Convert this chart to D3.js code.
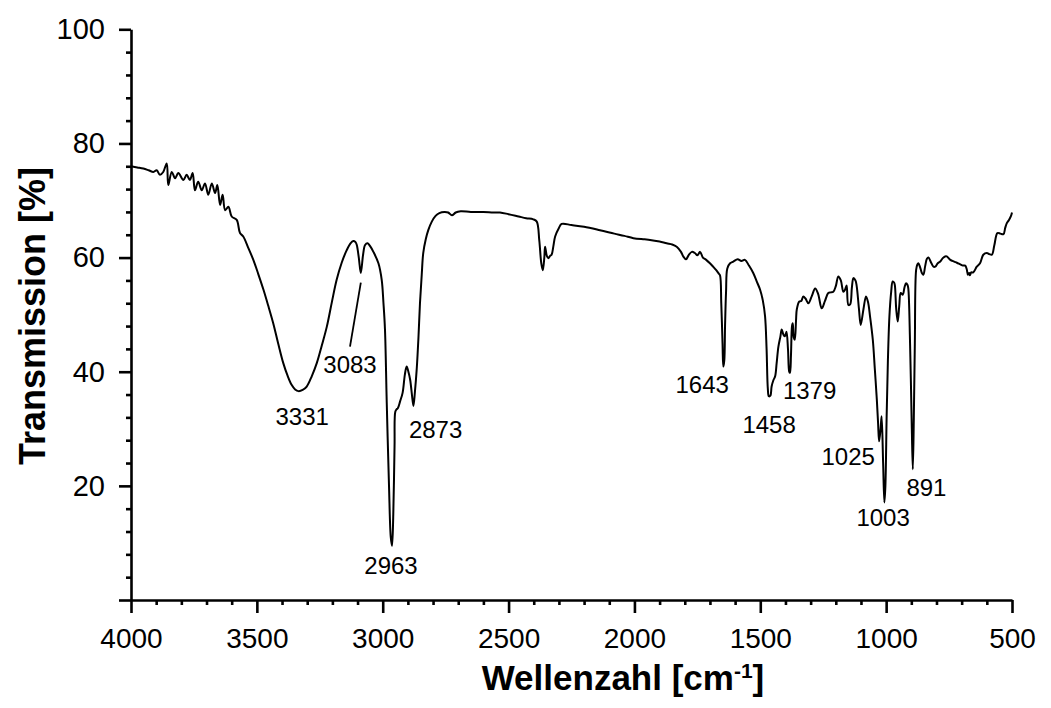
<!DOCTYPE html>
<html>
<head>
<meta charset="utf-8">
<script src="https://cdn.jsdelivr.net/npm/d3@7"></script>
<style>
  html, body { margin: 0; padding: 0; background: #fff; }
  svg { display: block; }
  text { font-family: "Liberation Sans", Arial, Helvetica, sans-serif; fill: #000; }
</style>
</head>
<body>
<svg id="chart" width="1051" height="708"></svg>
<script>
// ---- data ----
const wavenumber = [
  4000,3975,3951,3930,3911,3898,3885,3872,3858,3852,3838,3825,3812,3792,3779,3766,3755,3746,3733,3719,
  3706,3693,3679,3666,3657,3646,3636,3626,3613,3600,3580,3567,3554,3535,3514,3495,3474,3455,3435,3415,
  3395,3378,3362,3348,3335,3318,3302,3282,3262,3242,3222,3202,3183,3163,3143,3128,3117,3108,3103,3095,
  3087,3078,3070,3060,3050,3037,3017,3004,2997,2991,2984,2975,2968,2963,2958,2953,2950,2945,2940,2931,
  2921,2912,2905,2898,2891,2884,2878,2872,2865,2858,2852,2845,2839,2829,2819,2805,2790,2775,2755,2740,
  2725,2710,2690,2650,2600,2560,2534,2500,2460,2430,2402,2388,2378,2370,2364,2358,2355,2348,2342,2335,
  2329,2322,2315,2300,2289,2250,2200,2137,2080,2040,2004,1960,1938,1900,1872,1850,1832,1815,1806,1795,
  1785,1772,1760,1750,1739,1728,1715,1700,1687,1675,1665,1660,1655,1650,1647,1643,1640,1636,1631,1620,
  1607,1590,1575,1561,1545,1528,1515,1501,1490,1481,1475,1470,1466,1460,1455,1448,1441,1435,1428,1420,
  1415,1408,1402,1396,1390,1385,1382,1378,1374,1371,1367,1363,1358,1355,1345,1337,1329,1320,1309,1295,
  1282,1270,1256,1243,1230,1220,1210,1200,1190,1180,1170,1163,1157,1150,1143,1136,1130,1122,1117,1108,
  1101,1090,1080,1072,1064,1053,1045,1037,1032,1028,1022,1018,1012,1007,1003,998,993,987,980,974,
  968,965,960,954,948,942,934,927,921,915,912,905,898,894,890,886,881,876,872,865,
  858,852,845,838,832,822,812,805,795,785,775,766,759,745,730,719,705,695,686,680,
  675,670,667,662,654,640,627,614,600,590,580,570,558,546,534,527,521,512,504,500
];
const transmission = [
  76.0,75.8,75.6,75.3,75.0,75.3,74.5,75.0,76.5,72.7,75.0,73.9,74.8,73.6,74.5,73.6,74.8,71.8,73.3,71.8,
  73.0,71.0,73.0,71.3,72.7,69.2,71.0,68.3,68.9,67.2,66.6,64.3,63.7,61.8,59.6,57.2,54.4,51.6,48.5,44.9,
  41.5,39.3,37.7,36.9,36.6,36.8,37.4,39.2,41.5,44.6,47.9,52.2,56.1,59.1,61.3,62.5,62.9,62.7,62.2,60.0,
  57.3,60.5,62.2,62.5,62.0,61.0,59.0,56.1,52.0,47.4,34.6,20.0,11.0,9.5,15.0,27.0,33.0,33.4,33.6,34.8,
  36.3,39.5,40.9,40.0,38.6,36.0,34.0,36.5,40.4,46.0,52.0,57.0,60.8,63.2,64.8,66.3,67.3,67.8,68.0,67.9,
  67.4,67.9,68.1,68.0,68.0,67.9,67.9,67.6,67.2,66.9,66.7,66.3,63.0,59.0,57.8,60.0,61.9,60.3,59.9,60.3,
  60.5,62.0,63.7,65.2,65.9,65.7,65.4,64.8,64.2,63.8,63.4,63.2,63.1,62.8,62.5,62.3,61.9,61.0,60.2,59.7,
  60.4,61.0,60.8,60.4,61.0,60.0,59.6,59.0,58.4,57.8,57.2,56.9,52.0,45.0,40.9,42.0,48.0,54.0,58.1,59.0,
  59.3,59.7,59.4,59.6,58.6,57.3,55.9,54.4,52.5,49.7,44.0,37.0,35.7,35.8,37.4,38.5,39.2,41.5,44.4,46.2,
  47.4,46.5,46.2,47.0,44.0,40.0,39.8,43.0,48.0,48.5,46.0,45.6,49.0,50.9,52.3,52.4,53.2,52.8,52.0,53.3,
  54.6,53.6,51.1,52.4,53.8,53.9,54.0,55.0,56.7,56.0,54.0,54.4,55.1,51.7,51.8,54.8,56.4,56.0,55.0,51.0,
  48.2,51.0,53.2,52.2,49.7,45.6,40.5,35.1,31.0,27.8,30.0,32.2,24.0,17.1,20.0,32.2,42.0,49.7,54.0,55.8,
  55.6,55.0,51.0,48.8,51.5,53.8,53.5,54.8,55.5,55.2,54.6,45.0,30.0,22.9,32.0,45.0,57.8,58.8,59.0,58.3,
  57.3,57.0,58.5,59.8,60.0,59.2,58.4,58.4,59.0,59.3,59.9,60.2,60.2,59.6,59.3,59.1,58.8,58.6,58.6,58.0,
  57.0,57.3,56.9,57.4,57.4,58.4,59.0,60.5,60.8,60.6,60.5,62.2,64.3,64.2,64.1,65.2,66.0,66.6,67.3,67.9
];

const xMajorTicks = [4000, 3500, 3000, 2500, 2000, 1500, 1000, 500];
const yMajorTicks = [0, 20, 40, 60, 80, 100];
const yTickLabels = ["", "20", "40", "60", "80", "100"];

// peak annotations: label text and anchor (wavenumber, transmission) of label centre/baseline
const peakText = ["3331", "3083", "2963", "2873", "1643", "1458", "1379", "1025", "1003", "891"];
const peakLabelWn = [3320, 3130, 2967, 2790, 1731, 1465, 1304, 1151, 1012, 840];
const peakLabelT  = [30.6, 39.8, 4.5, 28.3, 36.3, 29.2, 35.3, 23.6, 12.9, 18.3];
// leader line for 3083 band
const leaderWn = [3087, 3130];
const leaderT  = [55.6, 44.4];

const xTitle = "Wellenzahl [cm";
const xTitleSup = "-1";
const yTitle = "Transmission [%]";

// ---- drawing ----
const svg = d3.select("#chart");
const x = d3.scaleLinear().domain([4000, 500]).range([131, 1012]);
const y = d3.scaleLinear().domain([0, 100]).range([600, 29.3]);

const axisColor = "#000";
const axisW = 2.6;

// minor ticks
const xMinor = d3.range(4000, 499, -100).filter(v => !xMajorTicks.includes(v));
const yMinor = d3.range(0, 101, 4).filter(v => !yMajorTicks.includes(v));

const gx = svg.append("g").attr("transform", `translate(0,${y(0)})`);
gx.call(d3.axisBottom(x).tickValues(xMajorTicks).tickSize(13).tickSizeOuter(0).tickPadding(15)
  .tickFormat(d3.format("d")));
const gxm = svg.append("g").attr("transform", `translate(0,${y(0)})`);
gxm.call(d3.axisBottom(x).tickValues(xMinor).tickSize(5).tickSizeOuter(0).tickFormat(""));
gxm.select(".domain").remove();

const gy = svg.append("g").attr("transform", `translate(${x(4000)},0)`);
gy.call(d3.axisLeft(y).tickValues(yMajorTicks).tickSize(12).tickSizeOuter(0).tickPadding(14)
  .tickFormat((d, i) => yTickLabels[i]));
const gym = svg.append("g").attr("transform", `translate(${x(4000)},0)`);
gym.call(d3.axisLeft(y).tickValues(yMinor).tickSize(5).tickSizeOuter(0).tickFormat(""));
gym.select(".domain").remove();

svg.selectAll(".domain, .tick line").attr("stroke", axisColor).attr("stroke-width", axisW);
gx.selectAll(".tick text").attr("font-size", 28).attr("font-family", "Liberation Sans, Arial, sans-serif").attr("fill", "#000");
gy.selectAll(".tick text").attr("font-size", 29).attr("font-family", "Liberation Sans, Arial, sans-serif").attr("fill", "#000");

// spectrum line
const pts = wavenumber.map((w, i) => [w, transmission[i]]);
svg.append("path").datum(pts)
  .attr("d", d3.line().x(d => x(d[0])).y(d => y(d[1])).curve(d3.curveCatmullRom.alpha(0.5)))
  .attr("fill", "none").attr("stroke", "#000").attr("stroke-width", 2).attr("stroke-linejoin", "round");

// leader line
svg.append("line")
  .attr("x1", x(leaderWn[0])).attr("y1", y(leaderT[0]))
  .attr("x2", x(leaderWn[1])).attr("y2", y(leaderT[1]))
  .attr("stroke", "#000").attr("stroke-width", 1.8);

// peak labels
svg.append("g").selectAll("text").data(peakText).join("text")
  .attr("x", (d, i) => x(peakLabelWn[i]))
  .attr("y", (d, i) => y(peakLabelT[i]))
  .attr("text-anchor", "middle")
  .attr("font-size", 24)
  .text(d => d);

// axis titles
const xt = svg.append("text").attr("x", 623).attr("y", 690).attr("text-anchor", "middle")
  .attr("font-size", 35).attr("font-weight", "bold");
xt.append("tspan").text(xTitle);
xt.append("tspan").attr("font-size", 21).attr("dy", -12).text(xTitleSup);
xt.append("tspan").attr("dy", 12).text("]");

svg.append("text")
  .attr("transform", `translate(45,316) rotate(-90)`)
  .attr("text-anchor", "middle")
  .attr("font-size", 36).attr("font-weight", "bold")
  .text(yTitle);
</script>
</body>
</html>
